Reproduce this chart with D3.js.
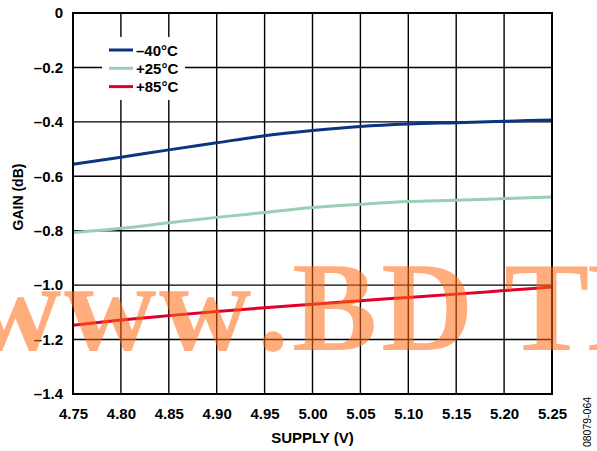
<!DOCTYPE html>
<html><head><meta charset="utf-8">
<script src="https://cdn.jsdelivr.net/npm/d3@7"></script>
<style>body{margin:0;background:#fff;}svg{display:block;}</style>
</head><body>
<script>
const supply = [4.75, 4.80, 4.85, 4.90, 4.95, 5.00, 5.05, 5.10, 5.15, 5.20, 5.25];
const gainM40 = [-0.556, -0.530, -0.503, -0.477, -0.451, -0.432, -0.417, -0.408, -0.403, -0.398, -0.393];
const gainP25 = [-0.807, -0.791, -0.771, -0.751, -0.733, -0.715, -0.703, -0.693, -0.688, -0.682, -0.676];
const gainP85 = [-1.147, -1.128, -1.112, -1.097, -1.083, -1.070, -1.057, -1.045, -1.033, -1.020, -1.007];
const seriesNames = ["\u201340\u00B0C", "+25\u00B0C", "+85\u00B0C"];
const seriesColors = ["#0c3480", "#9acfb4", "#e0002a"];
const xTicks = [4.75, 4.80, 4.85, 4.90, 4.95, 5.00, 5.05, 5.10, 5.15, 5.20, 5.25];
const yTicks = [0, -0.2, -0.4, -0.6, -0.8, -1.0, -1.2, -1.4];
const watermark = "www.BDTI";

const W = 597, H = 451;
const L = 73, R = 552, T = 13, B = 394;
const svg = d3.select("body").append("svg").attr("width", W).attr("height", H);
const x = d3.scaleLinear().domain([4.75, 5.25]).range([L, R]);
const y = d3.scaleLinear().domain([0, -1.4]).range([T, B]);
const font = "'Liberation Sans', Arial, sans-serif";

// grid
const g = svg.append("g");
g.selectAll("line.vx").data(xTicks).join("line")
  .attr("x1", d => x(d)).attr("x2", d => x(d)).attr("y1", T).attr("y2", B)
  .attr("stroke", "#000").attr("stroke-width", 1.4);
g.selectAll("line.hy").data(yTicks).join("line")
  .attr("x1", L).attr("x2", R).attr("y1", d => y(d)).attr("y2", d => y(d))
  .attr("stroke", "#000").attr("stroke-width", 1.4);

// axes labels via d3 axes
const xAxis = d3.axisBottom(x).tickValues(xTicks).tickFormat(d3.format(".2f")).tickSize(0).tickPadding(14);
const gx = svg.append("g").attr("transform", `translate(0,${B})`).call(xAxis);
gx.select(".domain").remove();
gx.selectAll("text").attr("font-family", font).attr("font-weight", "bold").attr("font-size", 15).attr("fill", "#000");

const yFmt = d => d === 0 ? "0" : "\u2013" + Math.abs(d).toFixed(1);
const yAxis = d3.axisLeft(y).tickValues(yTicks).tickFormat(yFmt).tickSize(0).tickPadding(10);
const gy = svg.append("g").attr("transform", `translate(${L},0)`).call(yAxis);
gy.select(".domain").remove();
gy.selectAll("text").attr("font-family", font).attr("font-weight", "bold").attr("font-size", 15).attr("fill", "#000");

// data lines
const line = d3.line().x((d, i) => x(supply[i])).y(d => y(d)).curve(d3.curveMonotoneX);
[gainM40, gainP25, gainP85].forEach((s, i) => {
  svg.append("path").datum(s).attr("d", line).attr("fill", "none")
    .attr("stroke", seriesColors[i]).attr("stroke-width", 3);
});

// border
svg.append("rect").attr("x", L).attr("y", T).attr("width", R - L).attr("height", B - T)
  .attr("fill", "none").attr("stroke", "#000").attr("stroke-width", 2);

// legend
svg.append("rect").attr("x", 102).attr("y", 37).attr("width", 83).attr("height", 63).attr("fill", "#fff");
seriesNames.forEach((n, i) => {
  const ly = 50 + i * 18.3;
  svg.append("line").attr("x1", 109).attr("x2", 133).attr("y1", ly).attr("y2", ly)
    .attr("stroke", seriesColors[i]).attr("stroke-width", 3);
  svg.append("text").attr("x", 136).attr("y", ly + 5.5).text(n)
    .attr("font-family", font).attr("font-weight", "bold").attr("font-size", 15);
});

// titles
svg.append("text").attr("x", (L + R) / 2).attr("y", 443).attr("text-anchor", "middle")
  .attr("font-family", font).attr("font-weight", "bold").attr("font-size", 15).text("SUPPLY (V)");
svg.append("text").attr("transform", "translate(23,197) rotate(-90)").attr("text-anchor", "middle")
  .attr("font-family", font).attr("font-weight", "bold").attr("font-size", 14).text("GAIN (dB)");
svg.append("text").attr("transform", "translate(591,422) rotate(-90)").attr("text-anchor", "middle")
  .attr("font-family", font).attr("font-size", 10.5).text("08079-064");

// watermark
svg.append("text").attr("x", "-31 64 159 257 292 381 504 585").attr("y", 350)
  .attr("font-family", "'Liberation Serif', 'Times New Roman', serif").attr("font-weight", "bold")
  .attr("font-size", 128).attr("fill", "#ff6a10").attr("fill-opacity", 0.55).text(watermark);
</script>
</body></html>
